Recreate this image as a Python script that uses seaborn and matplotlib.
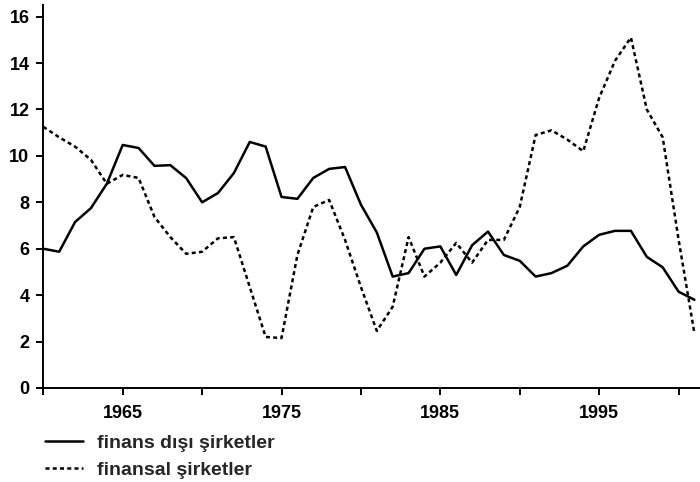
import matplotlib
matplotlib.use("Agg")
import matplotlib.pyplot as plt
import seaborn as sns
import pandas as pd

years = list(range(1960, 2002))
finans_disi = [6.0, 5.87, 7.15, 7.75, 8.8, 10.47, 10.34, 9.57, 9.6, 9.04,
               8.0, 8.4, 9.26, 10.6, 10.4, 8.23, 8.15, 9.05, 9.44, 9.52,
               7.9, 6.7, 4.8, 4.95, 6.0, 6.1, 4.87, 6.15, 6.74, 5.73,
               5.48, 4.8, 4.95, 5.27, 6.1, 6.6, 6.77, 6.77, 5.65, 5.2,
               4.15, 3.8]
finansal = [11.25, 10.8, 10.4, 9.83, 8.8, 9.18, 9.05, 7.37, 6.5, 5.78,
            5.87, 6.45, 6.5, 4.35, 2.2, 2.15, 5.73, 7.8, 8.1, 6.38,
            4.35, 2.46, 3.5, 6.5, 4.8, 5.4, 6.25, 5.4, 6.38, 6.38,
            7.8, 10.9, 11.1, 10.7, 10.2, 12.5, 14.1, 15.1, 12.0, 10.8,
            6.4, 2.35]
series_names = ["finans dışı şirketler", "finansal şirketler"]
x_ticks = [1960, 1965, 1970, 1975, 1980, 1985, 1990, 1995, 2000]
x_tick_labels = ["", "1965", "", "1975", "", "1985", "", "1995", ""]
y_ticks = [0, 2, 4, 6, 8, 10, 12, 14, 16]

sns.set_style("white")
plt.rcParams['font.family'] = ['Liberation Sans', 'DejaVu Sans']
plt.rcParams['font.weight'] = 'bold'

df = pd.DataFrame({"year": years, "a": finans_disi, "b": finansal})

fig = plt.figure(figsize=(7, 4.82), dpi=100)
ax = fig.add_axes([43.3 / 700, 1 - 388 / 482, 1 - 43.3 / 700, (388 - 5) / 482])

sns.lineplot(data=df, x="year", y="a", ax=ax, color="black", linewidth=1.8,
             label=series_names[0])
sns.lineplot(data=df, x="year", y="b", ax=ax, color="black", linewidth=1.8,
             linestyle=(0, (1.6, 1.3)), label=series_names[1])

ax.set_xlim(1960, 2001.35)
ax.set_ylim(0, 16.5)
ax.set_xticks(x_ticks)
ax.set_xticklabels(x_tick_labels)
ax.set_yticks(y_ticks)
ax.set_yticklabels([str(v) for v in y_ticks])
ax.set_xlabel("")
ax.set_ylabel("")
for s in ["top", "right"]:
    ax.spines[s].set_visible(False)
for s in ["left", "bottom"]:
    ax.spines[s].set_color("black")
    ax.spines[s].set_linewidth(1.4)
ax.tick_params(axis="both", direction="out", length=5, width=1.4, color="black",
               labelsize=13, labelcolor="black", bottom=True, left=True)
ax.tick_params(axis="x", pad=7)
ax.tick_params(axis="y", pad=5)

ax.get_legend().remove()
handles, labels = ax.get_legend_handles_labels()
fig.legend(handles, labels, loc="upper left", bbox_to_anchor=(45 / 700, 1 - 434 / 482),
           frameon=False, fontsize=14, handlelength=1.95, handletextpad=0.7,
           labelspacing=0.5, borderpad=0, borderaxespad=0)

fig.savefig("out.png", dpi=100)
